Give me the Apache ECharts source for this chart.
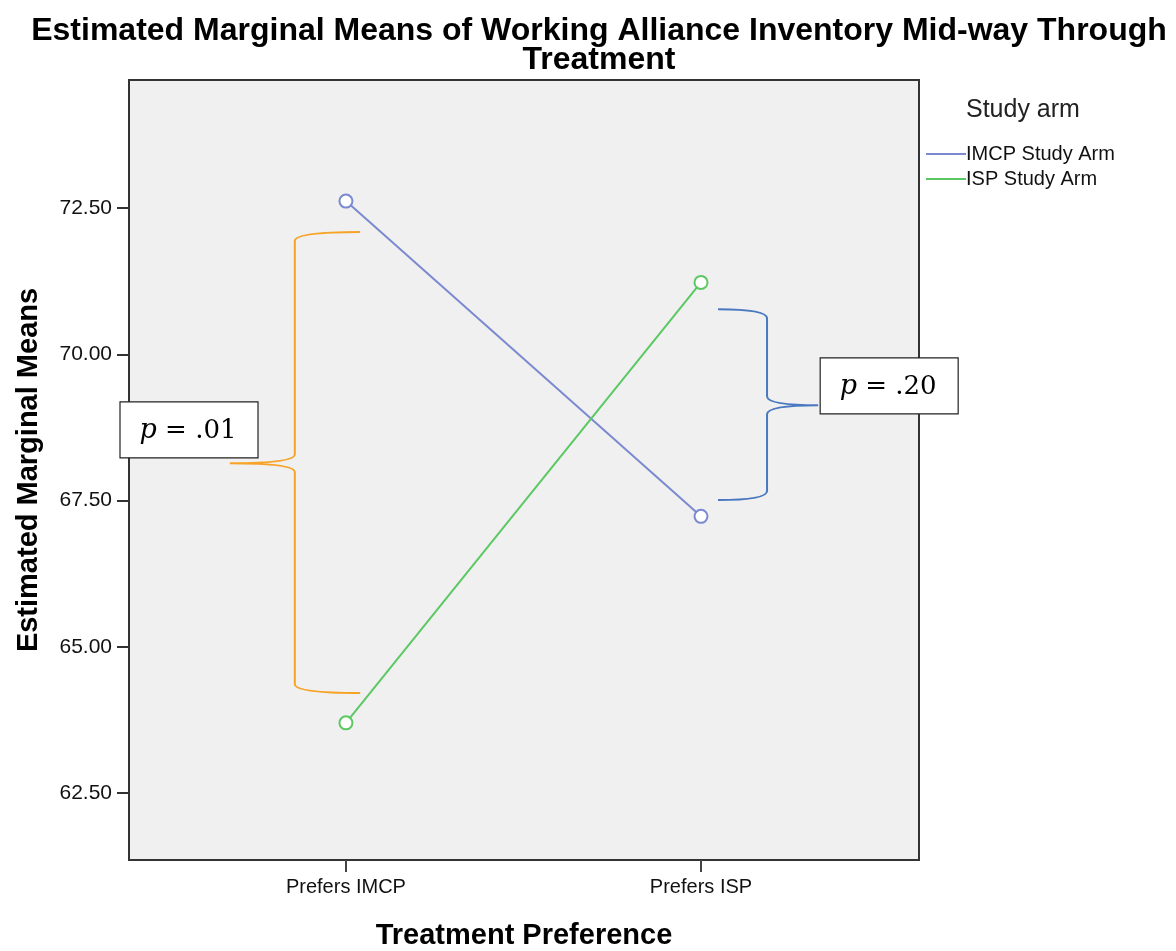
<!DOCTYPE html>
<html>
<head>
<meta charset="utf-8">
<script src="https://cdn.jsdelivr.net/npm/echarts@6/dist/echarts.min.js"></script>
<style>html,body{margin:0;padding:0;background:#fff}#c{width:1176px;height:951px}</style>
</head>
<body>
<div id="c"></div>
<script>
// ---- data ----
const categories = ['Prefers IMCP', 'Prefers ISP'];
const seriesNames = ['IMCP Study Arm', 'ISP Study Arm'];
const imcpValues = [72.62, 67.23];
const ispValues = [63.70, 71.23];
const yTicks = [62.5, 65, 67.5, 70, 72.5];
// bracket annotations: [xEnd, xSpine, xTip, yTop, yTip, yBottom]
const bracketLeft = [0.04, -0.144, -0.327, 72.09, 68.14, 64.21];
const bracketRight = [1.048, 1.186, 1.33, 70.77, 69.13, 67.51];
const labelLeft = ['p', ' = .01', -0.442, 68.71];
const labelRight = ['p', ' = .20', 1.53, 69.46];

const chart = echarts.init(document.getElementById('c'), null, {renderer: 'canvas'});
const SANS = 'Liberation Sans, Arial, sans-serif';

function bracketRender(params, api, b, color) {
  const [xe, xs, xt, yt, ym, yb] = b;
  const pEndTop = api.coord([xe, yt]);
  const pSpTop = api.coord([xs, yt]);
  const pSpTip = api.coord([xs, ym]);
  const pTip = api.coord([xt, ym]);
  const pEndBot = api.coord([xe, yb]);
  const r = 9;
  const X = pSpTop[0];
  const d = [
    'M', pEndTop[0], pEndTop[1],
    'Q', X, pEndTop[1], X, pEndTop[1] + r,
    'L', X, pSpTip[1] - r,
    'Q', X, pSpTip[1], pTip[0], pSpTip[1],
    'Q', X, pSpTip[1], X, pSpTip[1] + r,
    'L', X, pEndBot[1] - r,
    'Q', X, pEndBot[1], pEndBot[0], pEndBot[1]
  ].join(' ');
  return {
    type: 'path',
    shape: {pathData: d},
    style: {fill: null, stroke: color, lineWidth: 2}
  };
}

function labelRender(api, l) {
  const c = api.coord([l[2], l[3]]);
  const w = 138, h = 56;
  return {
    type: 'group',
    children: [
      {type: 'rect', shape: {x: c[0] - w / 2, y: c[1] - h / 2, width: w, height: h},
        style: {fill: '#fff', stroke: '#222', lineWidth: 1.2}},
      {type: 'text', x: c[0] - 1, y: c[1] + 1,
        style: {
          text: '{i|' + l[0] + '}{n|' + l[1] + '}',
          align: 'center', verticalAlign: 'middle',
          rich: {
            i: {fontFamily: 'DejaVu Serif, serif', fontStyle: 'italic', fontSize: 27, fill: '#000'},
            n: {fontFamily: 'DejaVu Serif, serif', fontSize: 26, fill: '#000'}
          }
        }}
    ]
  };
}

const option = {
  animation: false,
  backgroundColor: '#ffffff',
  title: [
    {
      text: 'Estimated Marginal Means of Working Alliance Inventory Mid-way Through\nTreatment',
      left: 594, top: 12, textAlign: 'center',
      textStyle: {fontFamily: SANS, fontWeight: 'bold', fontSize: 32, lineHeight: 29, color: '#000'}
    },
    {
      text: 'Study arm',
      left: 961, top: 93,
      textStyle: {fontFamily: SANS, fontWeight: 'normal', fontSize: 25, color: '#222'}
    }
  ],
  legend: {
    orient: 'vertical',
    left: 921, top: 139,
    itemWidth: 40, itemHeight: 2, itemGap: 5,
    icon: 'rect',
    data: seriesNames,
    textStyle: {fontFamily: SANS, fontSize: 20, color: '#111', padding: [0, 0, 0, -5]}
  },
  grid: {
    left: 129, right: 257, top: 80, bottom: 91,
    outerBoundsMode: 'none', containLabel: false,
    show: true, backgroundColor: '#f0f0f0', borderColor: '#333', borderWidth: 2
  },
  xAxis: {
    type: 'value',
    min: -0.611, max: 1.614,
    name: 'Treatment Preference',
    nameLocation: 'middle', nameGap: 61,
    nameTextStyle: {fontFamily: SANS, fontWeight: 'bold', fontSize: 29, color: '#000'},
    axisLine: {show: true, onZero: false, lineStyle: {color: '#333', width: 2}},
    axisTick: {show: true, length: 12, lineStyle: {color: '#444', width: 2}, customValues: [0, 1]},
    axisLabel: {
      customValues: [0, 1],
      formatter: v => categories[Math.round(v)],
      fontFamily: SANS, fontSize: 20, color: '#111', margin: 17
    },
    splitLine: {show: false}
  },
  yAxis: {
    type: 'value',
    min: 61.355, max: 74.69,
    name: 'Estimated Marginal Means',
    nameLocation: 'middle', nameGap: 86,
    nameTextStyle: {fontFamily: SANS, fontWeight: 'bold', fontSize: 29, color: '#000'},
    axisLine: {show: true, onZero: false, lineStyle: {color: '#333', width: 2}},
    axisTick: {show: true, length: 12, lineStyle: {color: '#333', width: 2}, customValues: yTicks},
    axisLabel: {
      customValues: yTicks,
      formatter: v => v.toFixed(2),
      fontFamily: SANS, fontSize: 21, color: '#111', margin: 17
    },
    splitLine: {show: false}
  },
  series: [
    {
      name: seriesNames[0], type: 'line',
      data: imcpValues.map((v, i) => [i, v]),
      symbol: 'emptyCircle', symbolSize: 13,
      lineStyle: {color: '#7b8ad0', width: 2},
      itemStyle: {color: '#7b8ad0', borderWidth: 2},
      color: '#7b8ad0'
    },
    {
      name: seriesNames[1], type: 'line',
      data: ispValues.map((v, i) => [i, v]),
      symbol: 'emptyCircle', symbolSize: 13,
      lineStyle: {color: '#5cc863', width: 2},
      itemStyle: {color: '#5cc863', borderWidth: 2},
      color: '#5cc863'
    },
    {
      type: 'custom', clip: false, silent: true, z: 5,
      data: [[0, 0]],
      renderItem: (params, api) => bracketRender(params, api, bracketLeft, '#f7a326')
    },
    {
      type: 'custom', clip: false, silent: true, z: 5,
      data: [[0, 0]],
      renderItem: (params, api) => bracketRender(params, api, bracketRight, '#4a78c0')
    },
    {
      type: 'custom', clip: false, silent: true, z: 6,
      data: [[0, 0]],
      renderItem: (params, api) => labelRender(api, labelLeft)
    },
    {
      type: 'custom', clip: false, silent: true, z: 6,
      data: [[0, 0]],
      renderItem: (params, api) => labelRender(api, labelRight)
    }
  ]
};
chart.setOption(option);
</script>
</body>
</html>
